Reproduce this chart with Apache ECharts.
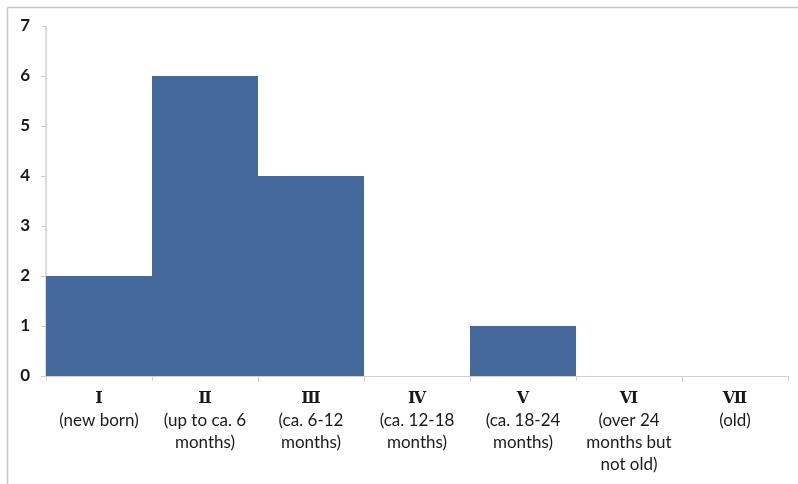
<!DOCTYPE html>
<html><head><meta charset="utf-8">
<script src="https://cdn.jsdelivr.net/npm/echarts@6/dist/echarts.min.js"></script>
<style>html,body{margin:0;padding:0;background:#fff;}#c{width:798px;height:484px;}</style>
</head><body><div id="c"></div>
<script>
const numerals = ['Ⅰ','Ⅱ','Ⅲ','Ⅳ','Ⅴ','Ⅵ','Ⅶ'];
const descriptions = ['(new born)','(up to ca. 6\nmonths)','(ca. 6-12\nmonths)','(ca. 12-18\nmonths)','(ca. 18-24\nmonths)','(over 24\nmonths but\nnot old)','(old)'];
const counts = [2, 6, 4, 0, 1, 0, 0];
const yTicks = [0,1,2,3,4,5,6,7];

const categories = numerals.map((n,i)=>n+'|'+descriptions[i]);
const chart = echarts.init(document.getElementById('c'));
chart.setOption({
  animation:false,
  backgroundColor:'#fff',
  graphic:[
    {type:'line',shape:{x1:7.5,y1:7.5,x2:798,y2:7.5},style:{stroke:'#c6c6c6',lineWidth:1.5}},
    {type:'line',shape:{x1:7.5,y1:7.5,x2:7.5,y2:484},style:{stroke:'#c6c6c6',lineWidth:1.5}}
  ],
  grid:{left:46,right:10,top:26,bottom:108,containLabel:false},
  xAxis:{
    type:'category',data:categories,boundaryGap:true,
    axisLine:{lineStyle:{color:'#d0d0d0',width:1}},
    axisTick:{show:true,length:5,lineStyle:{color:'#d0d0d0'}},
    axisLabel:{
      interval:0,margin:12,
      formatter:function(v){const p=v.split('|');return '{r|'+p[0]+'}\n{d|'+p[1].split('\n').join('}\n{d|')+'}';},
      rich:{
        r:{fontFamily:'DejaVu Serif',fontWeight:'bold',fontSize:16,color:'#1a1a1a',lineHeight:22},
        d:{fontFamily:'Lato',fontSize:17,color:'#1a1a1a',lineHeight:22}
      }
    }
  },
  yAxis:{
    type:'value',min:0,max:7,interval:1,
    axisLine:{show:true,lineStyle:{color:'#d0d0d0',width:1.5}},
    axisTick:{show:true,length:5,lineStyle:{color:'#d0d0d0'}},
    splitLine:{show:false},
    axisLabel:{fontFamily:'Lato',fontSize:17,fontWeight:'bold',color:'#1a1a1a',margin:16,
      formatter:function(v){return yTicks.indexOf(v)>=0?String(v):'';}}
  },
  series:[{type:'bar',data:counts,barWidth:'100%',barGap:'0%',
    itemStyle:{color:'#44699A'}}]
});
</script></body></html>
